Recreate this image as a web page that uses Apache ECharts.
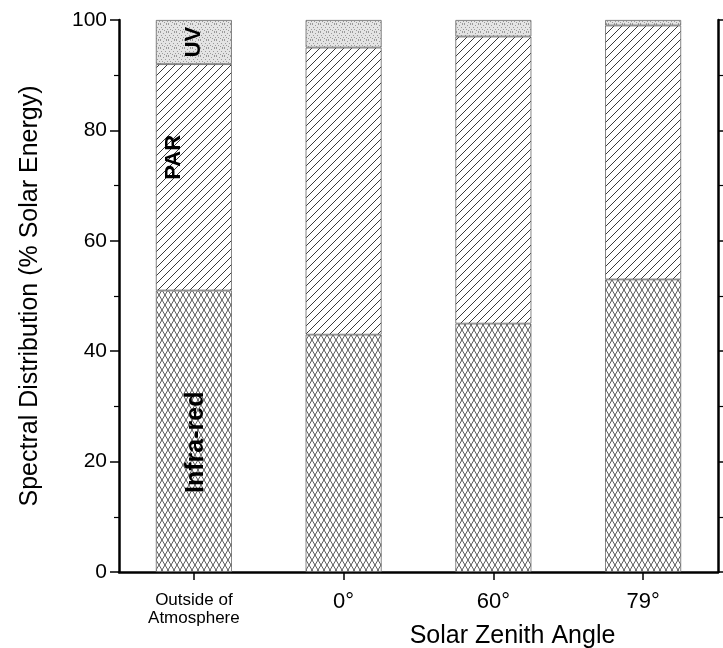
<!DOCTYPE html>
<html><head><meta charset="utf-8">
<script src="https://cdn.jsdelivr.net/npm/echarts@6/dist/echarts.min.js"></script>
<style>html,body{margin:0;padding:0;background:#fff}#c{width:723px;height:648px}</style>
</head><body><div id="c"></div>
<script>
var categories = ['Outside of\nAtmosphere', '0°', '60°', '79°'];
var infraRed = [51, 43, 45, 53];
var par = [41, 52, 52, 46];
var uv = [8, 5, 3, 1];
var seriesNames = ['Infra-red', 'PAR', 'UV'];
var yTicks = [0, 20, 40, 60, 80, 100];

function makeCanvas(w, h, draw) {
  var c = document.createElement('canvas'); c.width = w; c.height = h;
  var ctx = c.getContext('2d'); draw(ctx, w, h); return c;
}
var uvPat = makeCanvas(8, 8, function (ctx, w, h) {
  ctx.fillStyle = '#e4e4e4'; ctx.fillRect(0, 0, w, h);
  ctx.fillStyle = '#9a9a9a';
  var pts = [[0,0],[3,1],[6,0],[1,3],[5,3],[2,5],[7,5],[4,6],[0,7],[6,7]];
  pts.forEach(function (p) { ctx.fillRect(p[0], p[1], 1, 1); });
});
var parPat = makeCanvas(8, 8, function (ctx, w, h) {
  ctx.fillStyle = '#fff'; ctx.fillRect(0, 0, w, h);
  ctx.strokeStyle = '#222'; ctx.lineWidth = 0.9;
  ctx.beginPath();
  ctx.moveTo(0, 8); ctx.lineTo(8, 0);
  ctx.moveTo(-4, 4); ctx.lineTo(4, -4);
  ctx.moveTo(4, 12); ctx.lineTo(12, 4);
  ctx.stroke();
});
var irPat = makeCanvas(6, 10, function (ctx, w, h) {
  ctx.fillStyle = '#fff'; ctx.fillRect(0, 0, w, h);
  ctx.strokeStyle = '#333'; ctx.lineWidth = 0.8;
  ctx.beginPath();
  ctx.moveTo(0, 10); ctx.lineTo(6, 0);
  ctx.moveTo(-3, 5); ctx.lineTo(3, -5);
  ctx.moveTo(3, 15); ctx.lineTo(9, 5);
  ctx.moveTo(0, 0); ctx.lineTo(6, 10);
  ctx.moveTo(-3, 5); ctx.lineTo(3, 15);
  ctx.moveTo(3, -5); ctx.lineTo(9, 5);
  ctx.stroke();
});
var patterns = [irPat, parPat, uvPat];
var values = [infraRed, par, uv];
var labelOffsets = [[-11, 2], [20, -20], [0, 0]];
var labelSizes = [25, 22, 22];

var chart = echarts.init(document.getElementById('c'));
var font = 'Liberation Sans, Arial, sans-serif';
var yAxisCommon = {
  type: 'value', min: 0, max: 100, interval: 20,
  axisLine: { show: true, lineStyle: { color: '#000', width: 2.5 } },
  axisTick: { show: true, length: 9, lineStyle: { color: '#000', width: 1.5 } },
  minorTick: { show: true, splitNumber: 2, length: 5, lineStyle: { color: '#000', width: 1.2 } },
  splitLine: { show: false }
};
chart.setOption({
  animation: false,
  grid: { left: 119, right: 5, top: 20, bottom: 76, containLabel: false, outerBoundsMode: 'none' },
  xAxis: {
    type: 'category', data: categories.map(function (c, i) {
      return i === 0 ? { value: c, textStyle: { fontSize: 17, lineHeight: 18 } } : c;
    }),
    axisLine: { lineStyle: { color: '#000', width: 2.5 } },
    axisTick: { show: true, alignWithLabel: true, length: 8, lineStyle: { color: '#000', width: 1.5 } },
    axisLabel: { color: '#000', fontFamily: font, fontSize: 22, margin: 19, interval: 0 },
    name: 'Solar Zenith Angle', nameLocation: 'middle', nameGap: 52, nameMoveOverlap: false,
    nameTextStyle: { color: '#000', fontFamily: font, fontSize: 25, padding: [0, 0, 0, 188] }
  },
  yAxis: [
    Object.assign({}, yAxisCommon, {
      position: 'left',
      axisLabel: { color: '#000', fontFamily: font, fontSize: 21, margin: 12 },
      name: 'Spectral Distribution (% Solar Energy)', nameLocation: 'middle', nameGap: 76,
      nameMoveOverlap: false,
      nameTextStyle: { color: '#000', fontFamily: font, fontSize: 25 }
    }),
    Object.assign({}, yAxisCommon, {
      position: 'right', axisLabel: { show: false }
    })
  ],
  series: seriesNames.map(function (n, k) {
    return {
      name: n, type: 'bar', stack: 's', barWidth: 76,
      data: values[k],
      itemStyle: { color: { image: patterns[k], repeat: 'repeat' }, borderColor: '#666', borderWidth: 0.8 },
      label: {
        show: true, position: 'inside', rotate: 90, offset: labelOffsets[k],
        fontFamily: font, fontWeight: 'bold', fontSize: labelSizes[k], color: '#000',
        formatter: function (p) { return p.dataIndex === 0 ? n : ''; }
      }
    };
  })
});
</script></body></html>
